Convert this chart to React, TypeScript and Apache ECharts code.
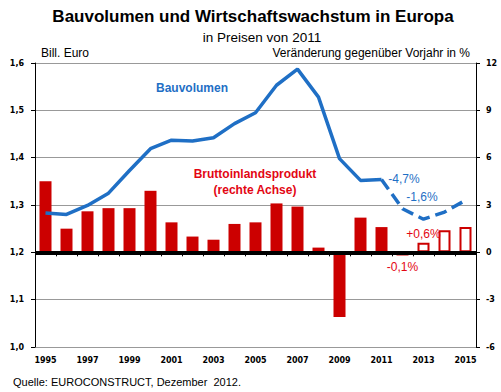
import React, { useEffect, useRef } from "react";
import * as echarts from "echarts";

const years = ["1995","1996","1997","1998","1999","2000","2001","2002","2003","2004","2005","2006","2007","2008","2009","2010","2011","2012","2013","2014","2015"];
const bauvolumen = [1.283,1.280,1.299,1.325,1.373,1.419,1.437,1.435,1.442,1.472,1.495,1.553,1.587,1.528,1.398,1.352,1.354,1.292,1.270,1.285,1.310];
const lastActualIndex = 16; // 2011
const bip = [4.5,1.5,2.6,2.8,2.8,3.9,1.9,1.0,0.8,1.8,1.9,3.1,2.9,0.3,-4.1,2.2,1.6,-0.2,0.6,1.4,1.6];
const forecastFrom = 18; // 2013
const bipLabels: Record<number, string> = { 17: "-0,1%", 18: "+0,6%" };

const BLUE = "#1f6fc5";
const RED = "#cc0000";
const RED_TEXT = "#e30613";
const SANS = "Liberation Sans";
const AXFONT = "DejaVu Sans";

export default function App() {
  const ref = useRef<HTMLDivElement>(null);
  useEffect(() => {
    if (!ref.current) return;
    const chart = echarts.init(ref.current, undefined, { renderer: "svg" });
    const solid = bauvolumen.map((v, i) => (i <= lastActualIndex ? v : null));
    const dashed = bauvolumen.map((v, i) => (i >= lastActualIndex ? v : null));
    const barData = bip.map((v, i) => {
      const item: any = { value: v };
      if (i >= forecastFrom) {
        item.itemStyle = { color: "#ffffff", borderColor: RED, borderWidth: 2 };
      }
      if (bipLabels[i]) {
        item.label = {
          show: true,
          position: v < 0 ? "bottom" : "top",
          distance: v < 0 ? 6 : 3,
          formatter: bipLabels[i],
          color: RED_TEXT,
          fontFamily: SANS,
          fontSize: 12,
        };
      }
      return item;
    });
    chart.setOption({
      animation: false,
      backgroundColor: "#ffffff",
      grid: { left: 35, right: 25, top: 63, bottom: 45, containLabel: false },
      xAxis: {
        type: "category",
        data: years,
        boundaryGap: true,
        axisLine: { lineStyle: { color: "#000", width: 1 } },
        axisTick: { show: true, interval: 0, length: 4, lineStyle: { color: "#000" } },
        axisLabel: { interval: 1, margin: 9, color: "#000", fontFamily: AXFONT, fontWeight: "bold", fontSize: 8 },
      },
      yAxis: [
        {
          type: "value",
          min: 1.0,
          max: 1.6,
          interval: 0.1,
          axisLine: { show: true, lineStyle: { color: "#000", width: 1 } },
          axisTick: { show: true, length: 4, lineStyle: { color: "#000" } },
          axisLabel: {
            margin: 11,
            color: "#000",
            fontFamily: AXFONT,
            fontWeight: "bold",
            fontSize: 8,
            formatter: (v: number) => v.toFixed(1).replace(".", ","),
          },
          splitLine: { show: true, lineStyle: { color: "#999", width: 1 } },
        },
        {
          type: "value",
          min: -6,
          max: 12,
          interval: 3,
          position: "right",
          axisLine: { show: true, lineStyle: { color: "#000", width: 1 } },
          axisTick: { show: true, length: 4, lineStyle: { color: "#000" } },
          axisLabel: { margin: 10, color: "#000", fontFamily: AXFONT, fontWeight: "bold", fontSize: 8 },
          splitLine: { show: false },
        },
      ],
      series: [
        {
          type: "bar",
          yAxisIndex: 1,
          data: barData,
          barWidth: 12,
          itemStyle: { color: RED },
          z: 2,
          markLine: {
            silent: true,
            symbol: "none",
            label: { show: false },
            lineStyle: { color: "#000", width: 4, type: "solid" },
            data: [{ yAxis: 0 }],
            z: 5,
          },
        },
        {
          type: "line",
          yAxisIndex: 0,
          data: solid,
          showSymbol: false,
          symbol: "none",
          lineStyle: { color: BLUE, width: 3.5 },
          z: 6,
        },
        {
          type: "line",
          yAxisIndex: 0,
          data: dashed,
          showSymbol: false,
          symbol: "none",
          lineStyle: { color: BLUE, width: 3.5, type: [12, 6] },
          z: 6,
        },
      ],
      graphic: [
        { type: "text", x: 253, y: 16, style: { text: "Bauvolumen und Wirtschaftswachstum in Europa", font: `bold 17px "${SANS}"`, fill: "#000", textAlign: "center", textVerticalAlign: "middle" } },
        { type: "text", x: 262, y: 37, style: { text: "in Preisen von 2011", font: `13.5px "${SANS}"`, fill: "#000", textAlign: "center", textVerticalAlign: "middle" } },
        { type: "text", x: 41, y: 53, style: { text: "Bill. Euro", font: `12px "${SANS}"`, fill: "#000", textAlign: "left", textVerticalAlign: "middle" } },
        { type: "text", x: 470, y: 53, style: { text: "Veränderung gegenüber Vorjahr in %", font: `12px "${SANS}"`, fill: "#000", textAlign: "right", textVerticalAlign: "middle" } },
        { type: "text", x: 192, y: 88, style: { text: "Bauvolumen", font: `bold 12px "${SANS}"`, fill: BLUE, textAlign: "center", textVerticalAlign: "middle" } },
        { type: "text", x: 255, y: 174, style: { text: "Bruttoinlandsprodukt", font: `bold 12px "${SANS}"`, fill: RED_TEXT, textAlign: "center", textVerticalAlign: "middle" } },
        { type: "text", x: 255, y: 190, style: { text: "(rechte Achse)", font: `bold 12px "${SANS}"`, fill: RED_TEXT, textAlign: "center", textVerticalAlign: "middle" } },
        { type: "text", x: 404, y: 179, style: { text: "-4,7%", font: `12px "${SANS}"`, fill: BLUE, textAlign: "center", textVerticalAlign: "middle" } },
        { type: "text", x: 422, y: 197, style: { text: "-1,6%", font: `12px "${SANS}"`, fill: BLUE, textAlign: "center", textVerticalAlign: "middle" } },
        { type: "text", x: 13, y: 382, style: { text: "Quelle: EUROCONSTRUCT, Dezember  2012.", font: `11px "${SANS}"`, fill: "#000", textAlign: "left", textVerticalAlign: "middle" } },
      ],
    });
    return () => chart.dispose();
  }, []);
  return <div ref={ref} style={{ position: "fixed", left: 0, top: 0, width: 501, height: 392 }} />;
}
